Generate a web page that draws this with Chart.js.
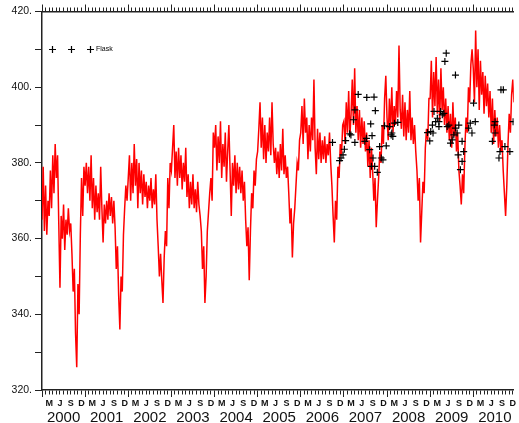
<!DOCTYPE html>
<html lang="en">
<head>
<meta charset="UTF-8">
<title>CO2 record with flask samples</title>
<script src="https://cdn.jsdelivr.net/npm/chart.js"></script>
<style>
  html, body { margin: 0; padding: 0; background: #fff; }
  #co2Chart { display: block; }
</style>
</head>
<body>
<canvas id="co2Chart" width="519" height="423"></canvas>
<script>
// continuous record: 36 readings per year (about every 10 days), one row per year
const lineStart = 2000;
const perYear = 36;
const co2Line = [
  365, 379, 362, 374, 361, 370, 366, 378, 368, 382, 372, 385, 376, 382, 364, 347, 366, 360, 369, 357, 365, 361, 368, 362, 364, 356, 346, 352, 335, 326, 348, 340, 361, 376, 366, 379,
  374, 380, 372, 379, 370, 382, 368, 376, 365, 374, 367, 372, 365, 379, 368, 359, 369, 364, 370, 365, 372, 366, 371, 364, 370, 363, 352, 358, 345, 336, 350, 346, 361, 368, 374, 370,
  376, 382, 370, 380, 372, 385, 374, 381, 368, 380, 372, 378, 369, 377, 371, 375, 368, 374, 370, 376, 368, 373, 369, 377, 365, 358, 350, 356, 349, 343, 355, 362, 358, 376, 368, 380,
  378, 384, 390, 376, 383, 374, 384, 376, 382, 373, 380, 375, 384, 371, 377, 368, 375, 369, 377, 368, 373, 367, 375, 369, 366, 362, 352, 358, 343, 350, 362, 367, 372, 376, 370, 388,
  384, 390, 378, 387, 380, 391, 376, 385, 379, 388, 375, 383, 390, 378, 366, 380, 374, 382, 372, 380, 373, 379, 372, 378, 370, 375, 365, 358, 363, 349, 362, 372, 368, 378, 374, 381,
  383, 389, 396, 384, 392, 381, 390, 380, 388, 383, 392, 382, 396, 385, 380, 384, 377, 383, 376, 385, 378, 389, 377, 382, 376, 379, 372, 364, 368, 355, 364, 368, 374, 380, 378, 386,
  388, 395, 385, 397, 388, 392, 381, 390, 383, 392, 386, 402, 384, 377, 389, 381, 388, 380, 386, 381, 387, 380, 385, 382, 388, 380, 374, 366, 359, 370, 365, 379, 376, 385, 382, 390,
  391, 385, 396, 388, 399, 387, 393, 402, 390, 405, 388, 395, 386, 394, 384, 392, 385, 391, 383, 388, 379, 386, 376, 384, 378, 370, 376, 363, 370, 376, 383, 380, 390, 385, 397, 403,
  392, 386, 397, 389, 400, 388, 395, 390, 399, 392, 411, 394, 389, 398, 387, 396, 386, 394, 388, 399, 386, 392, 385, 390, 383, 378, 370, 376, 359, 367, 375, 372, 384, 389, 386, 397,
  397, 407, 392, 404, 395, 408, 393, 402, 391, 405, 394, 400, 390, 397, 388, 395, 386, 393, 384, 396, 387, 392, 383, 388, 378, 374, 369, 377, 372, 384, 392, 388, 400, 396, 406, 410,
  405, 396, 415, 400, 410, 394, 407, 398, 404, 393, 403, 395, 401, 392, 399, 388, 397, 385, 394, 387, 392, 384, 390, 383, 386, 378, 372, 366, 374, 385, 393, 388, 398, 402, 396, 400
];

// flask samples (decimal year, ppm)
const flaskTime = [
  2006.736, 2006.900, 2006.934, 2006.980, 2007.011, 2007.041, 2007.133, 2007.163, 2007.225, 2007.255,
  2007.255, 2007.332, 2007.485, 2007.523, 2007.531, 2007.599, 2007.622, 2007.638, 2007.653, 2007.676,
  2007.699, 2007.714, 2007.729, 2007.775, 2007.829, 2007.867, 2007.906, 2007.943, 2007.982, 2008.057,
  2008.096, 2008.112, 2008.135, 2008.172, 2008.250, 2008.940, 2008.991, 2009.014, 2009.053, 2009.067,
  2009.090, 2009.128, 2009.167, 2009.204, 2009.204, 2009.243, 2009.282, 2009.319, 2009.342, 2009.373,
  2009.396, 2009.434, 2009.472, 2009.511, 2009.549, 2009.587, 2009.587, 2009.626, 2009.649, 2009.665,
  2009.702, 2009.741, 2009.741, 2009.778, 2009.893, 2009.931, 2009.970, 2010.007, 2010.046, 2010.443,
  2010.489, 2010.505, 2010.505, 2010.596, 2010.619, 2010.642, 2010.697, 2010.734, 2010.849, 2010.924
];
const flaskCo2 = [
  385.4, 380.6, 381.3, 382.1, 383.6, 385.9, 387.7, 387.4, 391.4, 394.0,
  385.4, 398.1, 385.7, 386.5, 397.3, 383.5, 390.3, 379.1, 387.2, 381.3,
  397.4, 379.1, 393.8, 377.5, 384.3, 381.3, 380.8, 389.8, 384.5, 389.6,
  387.4, 387.9, 387.0, 390.5, 390.7, 388.0, 385.8, 388.3, 390.0, 387.9,
  393.6, 390.9, 391.8, 390.9, 389.6, 393.6, 392.7, 393.1, 406.8, 409.0,
  389.6, 390.0, 385.2, 386.1, 387.4, 389.2, 403.2, 387.9, 382.1, 390.0,
  378.2, 385.7, 380.4, 383.0, 389.2, 390.5, 387.9, 395.8, 390.9, 385.7,
  390.0, 390.9, 387.9, 381.3, 383.0, 399.3, 399.3, 384.3, 383.0, 390.9
];

const years = [2000, 2001, 2002, 2003, 2004, 2005, 2006, 2007, 2008, 2009, 2010];
const monthLetters = ['', '', 'M', '', '', 'J', '', '', 'S', '', '', 'D'];
const yTicks = [320, 330, 340, 350, 360, 370, 380, 390, 400, 410, 420];

const xMin = 2000;
const xMax = 2010.94;   // the plot runs on past the right edge of the picture
const axisColor = '#222';
Chart.defaults.font.family = '"Liberation Sans", Arial, sans-serif';

const monthTicks = [];
for (let m = 0; m < years.length * 12; m++) monthTicks.push(xMin + m / 12);
const isYearStart = v => Math.abs(v - Math.round(v)) < 1e-6;

const lineData = co2Line.map((v, i) => ({ x: lineStart + i / perYear, y: v }));
const flaskData = flaskTime.map((t, i) => ({ x: t, y: flaskCo2[i] }));

// "+ + + Flask" key in the upper left of the plot
const flaskKey = {
  id: 'flaskKey',
  afterDatasetsDraw(chart) {
    const ctx = chart.ctx;
    const y = Math.round(chart.scales.y.getPixelForValue(410)) + 0.5;
    ctx.save();
    ctx.strokeStyle = '#000';
    ctx.lineWidth = 1.2;
    [52.5, 71.5, 90.5].forEach(x => {
      ctx.beginPath();
      ctx.moveTo(x - 3.5, y); ctx.lineTo(x + 3.5, y);
      ctx.moveTo(x, y - 3.5); ctx.lineTo(x, y + 3.5);
      ctx.stroke();
    });
    ctx.fillStyle = '#000';
    ctx.font = '7px "Liberation Sans", Arial, sans-serif';
    ctx.textBaseline = 'middle';
    ctx.fillText('Flask', 96, y);
    ctx.restore();
  }
};

new Chart(document.getElementById('co2Chart'), {
  type: 'line',
  data: {
    datasets: [
      {
        label: 'Flask',
        type: 'scatter',
        data: flaskData,
        pointStyle: 'cross',
        pointRadius: 3.5,
        borderColor: '#000',
        backgroundColor: '#000',
        borderWidth: 1.2,
        showLine: false
      },
      {
        label: 'CO2',
        data: lineData,
        borderColor: '#ff0000',
        borderWidth: 1.5,
        pointRadius: 0,
        tension: 0,
        fill: false
      }
    ]
  },
  options: {
    responsive: false,
    animation: false,
    devicePixelRatio: 1,
    layout: { padding: 0 },
    plugins: { legend: { display: false }, tooltip: { enabled: false } },
    scales: {
      x: {
        type: 'linear',
        position: 'bottom',
        weight: 0,
        min: xMin,
        max: xMax,
        afterBuildTicks: s => { s.ticks = monthTicks.map(v => ({ value: v })); },
        afterFit: s => { s.height = 19; s.paddingLeft = 0; s.paddingRight = 0; },
        border: { display: true, color: axisColor, width: 1.5 },
        grid: {
          drawOnChartArea: false,
          tickLength: 7,
          color: axisColor,
          tickWidth: 1,
          tickBorderDash: c => isYearStart(c.tick.value) ? [] : [4, 20]
        },
        ticks: {
          autoSkip: false,
          maxRotation: 0,
          minRotation: 0,
          padding: 1,
          color: '#111',
          font: { size: 9, weight: 'bold' },
          callback: (v, i) => monthLetters[i % 12]
        }
      },
      xYear: {
        type: 'linear',
        position: 'bottom',
        weight: 1,
        min: xMin,
        max: xMax,
        afterBuildTicks: s => { s.ticks = years.map(y => ({ value: y + 0.5 })); },
        afterFit: s => { s.height = 14; s.paddingLeft = 0; s.paddingRight = 0; },
        border: { display: false },
        grid: { display: false, drawTicks: false },
        ticks: {
          autoSkip: false,
          maxRotation: 0,
          minRotation: 0,
          padding: 0,
          color: '#111',
          font: { size: 15 },
          callback: (v, i) => String(years[i])
        }
      },
      xTop: {
        type: 'linear',
        position: 'top',
        min: xMin,
        max: xMax,
        afterBuildTicks: s => { s.ticks = monthTicks.map(v => ({ value: v })); },
        afterFit: s => { s.height = 11.5; s.paddingLeft = 0; s.paddingRight = 0; },
        border: { display: true, color: axisColor, width: 1.5 },
        grid: {
          drawOnChartArea: false,
          tickLength: 7,
          color: axisColor,
          tickWidth: 1,
          tickBorderDash: c => isYearStart(c.tick.value) ? [] : [0, 3, 4, 20]
        },
        ticks: { display: false }
      },
      y: {
        min: 320,
        max: 420,
        afterBuildTicks: s => { s.ticks = yTicks.map(v => ({ value: v })); },
        afterFit: s => { s.width = 42; s.paddingTop = 0; s.paddingBottom = 0; },
        border: { display: true, color: axisColor, width: 1.5 },
        grid: { drawOnChartArea: false, tickLength: 7, color: axisColor, tickWidth: 1 },
        ticks: {
          padding: 3,
          color: '#111',
          font: { size: 10.5 },
          callback: v => (v % 20 === 0 ? v + '.' : '')
        }
      }
    }
  },
  plugins: [flaskKey]
});
</script>
</body>
</html>
